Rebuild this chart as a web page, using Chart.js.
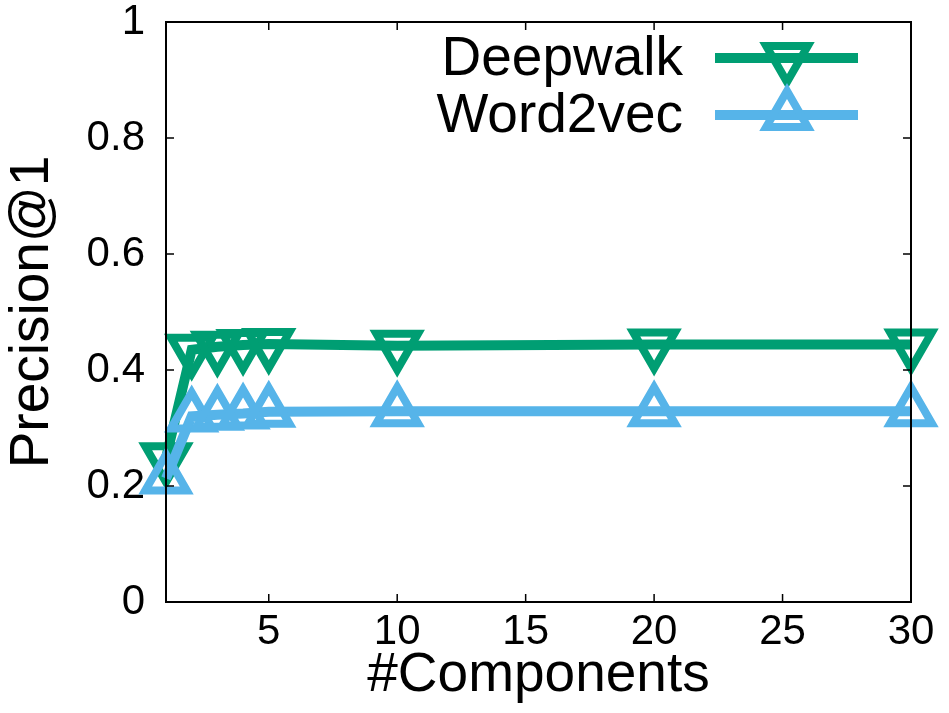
<!DOCTYPE html>
<html>
<head>
<meta charset="utf-8">
<script src="https://cdn.jsdelivr.net/npm/chart.js@4.4.1/dist/chart.umd.min.js"></script>
<style>
  html, body { margin: 0; padding: 0; background: #fff; }
  canvas { display: block; }
</style>
</head>
<body>
<canvas id="chart" width="949" height="713"></canvas>
<script>
// data
const components = [1, 2, 3, 4, 5, 10, 20, 30];
const deepwalk = [0.248, 0.435, 0.440, 0.443, 0.445, 0.442, 0.444, 0.444];
const word2vec = [0.213, 0.320, 0.323, 0.325, 0.328, 0.329, 0.329, 0.329];
const xTicks = [5, 10, 15, 20, 25, 30];
const yTicks = [0, 0.2, 0.4, 0.6, 0.8, 1];

const FONT = "'Liberation Sans', Arial, Helvetica, sans-serif";
const GREEN = '#009e73';
const BLUE = '#56b4e9';

const toPoints = (ys) => components.map((x, i) => ({ x: x, y: ys[i] }));

// frame with inward ticks on all four sides, drawn over the data like gnuplot
const framePlugin = {
  id: 'frame',
  afterDatasetsDraw(chart) {
    const { ctx, chartArea: a, scales } = chart;
    const tl = 8;
    ctx.save();
    ctx.strokeStyle = '#000';
    ctx.lineWidth = 1.5;
    ctx.beginPath();
    xTicks.forEach(v => {
      const px = scales.x.getPixelForValue(v);
      ctx.moveTo(px, a.bottom); ctx.lineTo(px, a.bottom - tl);
      ctx.moveTo(px, a.top); ctx.lineTo(px, a.top + tl);
    });
    yTicks.forEach(v => {
      const py = scales.y.getPixelForValue(v);
      ctx.moveTo(a.left, py); ctx.lineTo(a.left + tl, py);
      ctx.moveTo(a.right, py); ctx.lineTo(a.right - tl, py);
    });
    ctx.stroke();
    ctx.lineWidth = 2;
    ctx.strokeRect(a.left, a.top, a.right - a.left, a.bottom - a.top);
    ctx.restore();
  }
};

// gnuplot-style key: text on the left, line sample with marker on the right
const keyPlugin = {
  id: 'key',
  afterDraw(chart) {
    const { ctx } = chart;
    const rows = [58, 115];
    ctx.save();
    chart.data.datasets.forEach((ds, i) => {
      const y = rows[i];
      ctx.fillStyle = '#000';
      ctx.font = '55px ' + FONT;
      ctx.textAlign = 'right';
      ctx.textBaseline = 'middle';
      ctx.fillText(ds.label, 683, y + 2);
      ctx.strokeStyle = ds.borderColor;
      ctx.lineWidth = ds.borderWidth;
      ctx.beginPath();
      ctx.moveTo(715, y);
      ctx.lineTo(858, y);
      ctx.stroke();
      ctx.lineWidth = ds.pointBorderWidth;
      ctx.fillStyle = 'rgba(0,0,0,0)';
      Chart.helpers.drawPoint(ctx, {
        pointStyle: ds.pointStyle,
        rotation: ds.pointRotation,
        radius: ds.pointRadius,
        borderWidth: ds.pointBorderWidth
      }, 787, y);
    });
    ctx.restore();
  }
};

new Chart(document.getElementById('chart').getContext('2d'), {
  type: 'line',
  data: {
    datasets: [{
      label: 'Deepwalk',
      data: toPoints(deepwalk),
      borderColor: GREEN,
      borderWidth: 10,
      pointStyle: 'triangle',
      pointRotation: 180,
      pointRadius: 24,
      pointBorderWidth: 8,
      pointBorderColor: GREEN,
      pointBackgroundColor: 'rgba(0,0,0,0)',
      tension: 0,
      clip: false,
      order: 1
    }, {
      label: 'Word2vec',
      data: toPoints(word2vec),
      borderColor: BLUE,
      borderWidth: 10,
      pointStyle: 'triangle',
      pointRotation: 0,
      pointRadius: 24,
      pointBorderWidth: 8,
      pointBorderColor: BLUE,
      pointBackgroundColor: 'rgba(0,0,0,0)',
      tension: 0,
      clip: false,
      order: 0
    }]
  },
  options: {
    responsive: false,
    animation: false,
    devicePixelRatio: 1,
    layout: { autoPadding: false, padding: { top: 22, right: 38, left: 0, bottom: 0 } },
    plugins: {
      legend: { display: false },
      tooltip: { enabled: false }
    },
    scales: {
      x: {
        type: 'linear',
        min: 1,
        max: 30,
        afterBuildTicks: s => { s.ticks = xTicks.map(v => ({ value: v })); },
        afterFit: s => { s.height = 111; },
        grid: { display: false, drawTicks: false },
        border: { display: false },
        ticks: {
          color: '#000',
          font: { family: FONT, size: 42 },
          padding: 5,
          maxRotation: 0
        },
        title: {
          display: true,
          text: '#Components',
          color: '#000',
          font: { family: FONT, size: 55 },
          padding: { top: 0, bottom: 4 }
        }
      },
      y: {
        min: 0,
        max: 1,
        afterBuildTicks: s => { s.ticks = yTicks.map(v => ({ value: v })); },
        afterFit: s => { s.width = 166; s.paddingTop = 0; s.paddingBottom = 0; },
        grid: { display: false, drawTicks: false },
        border: { display: false },
        ticks: {
          color: '#000',
          font: { family: FONT, size: 42 },
          padding: 21,
          callback: v => String(v)
        },
        title: {
          display: true,
          text: 'Precision@1',
          color: '#000',
          font: { family: FONT, size: 55 },
          padding: { top: 0, bottom: 0 }
        }
      }
    }
  },
  plugins: [framePlugin, keyPlugin]
});
</script>
</body>
</html>
